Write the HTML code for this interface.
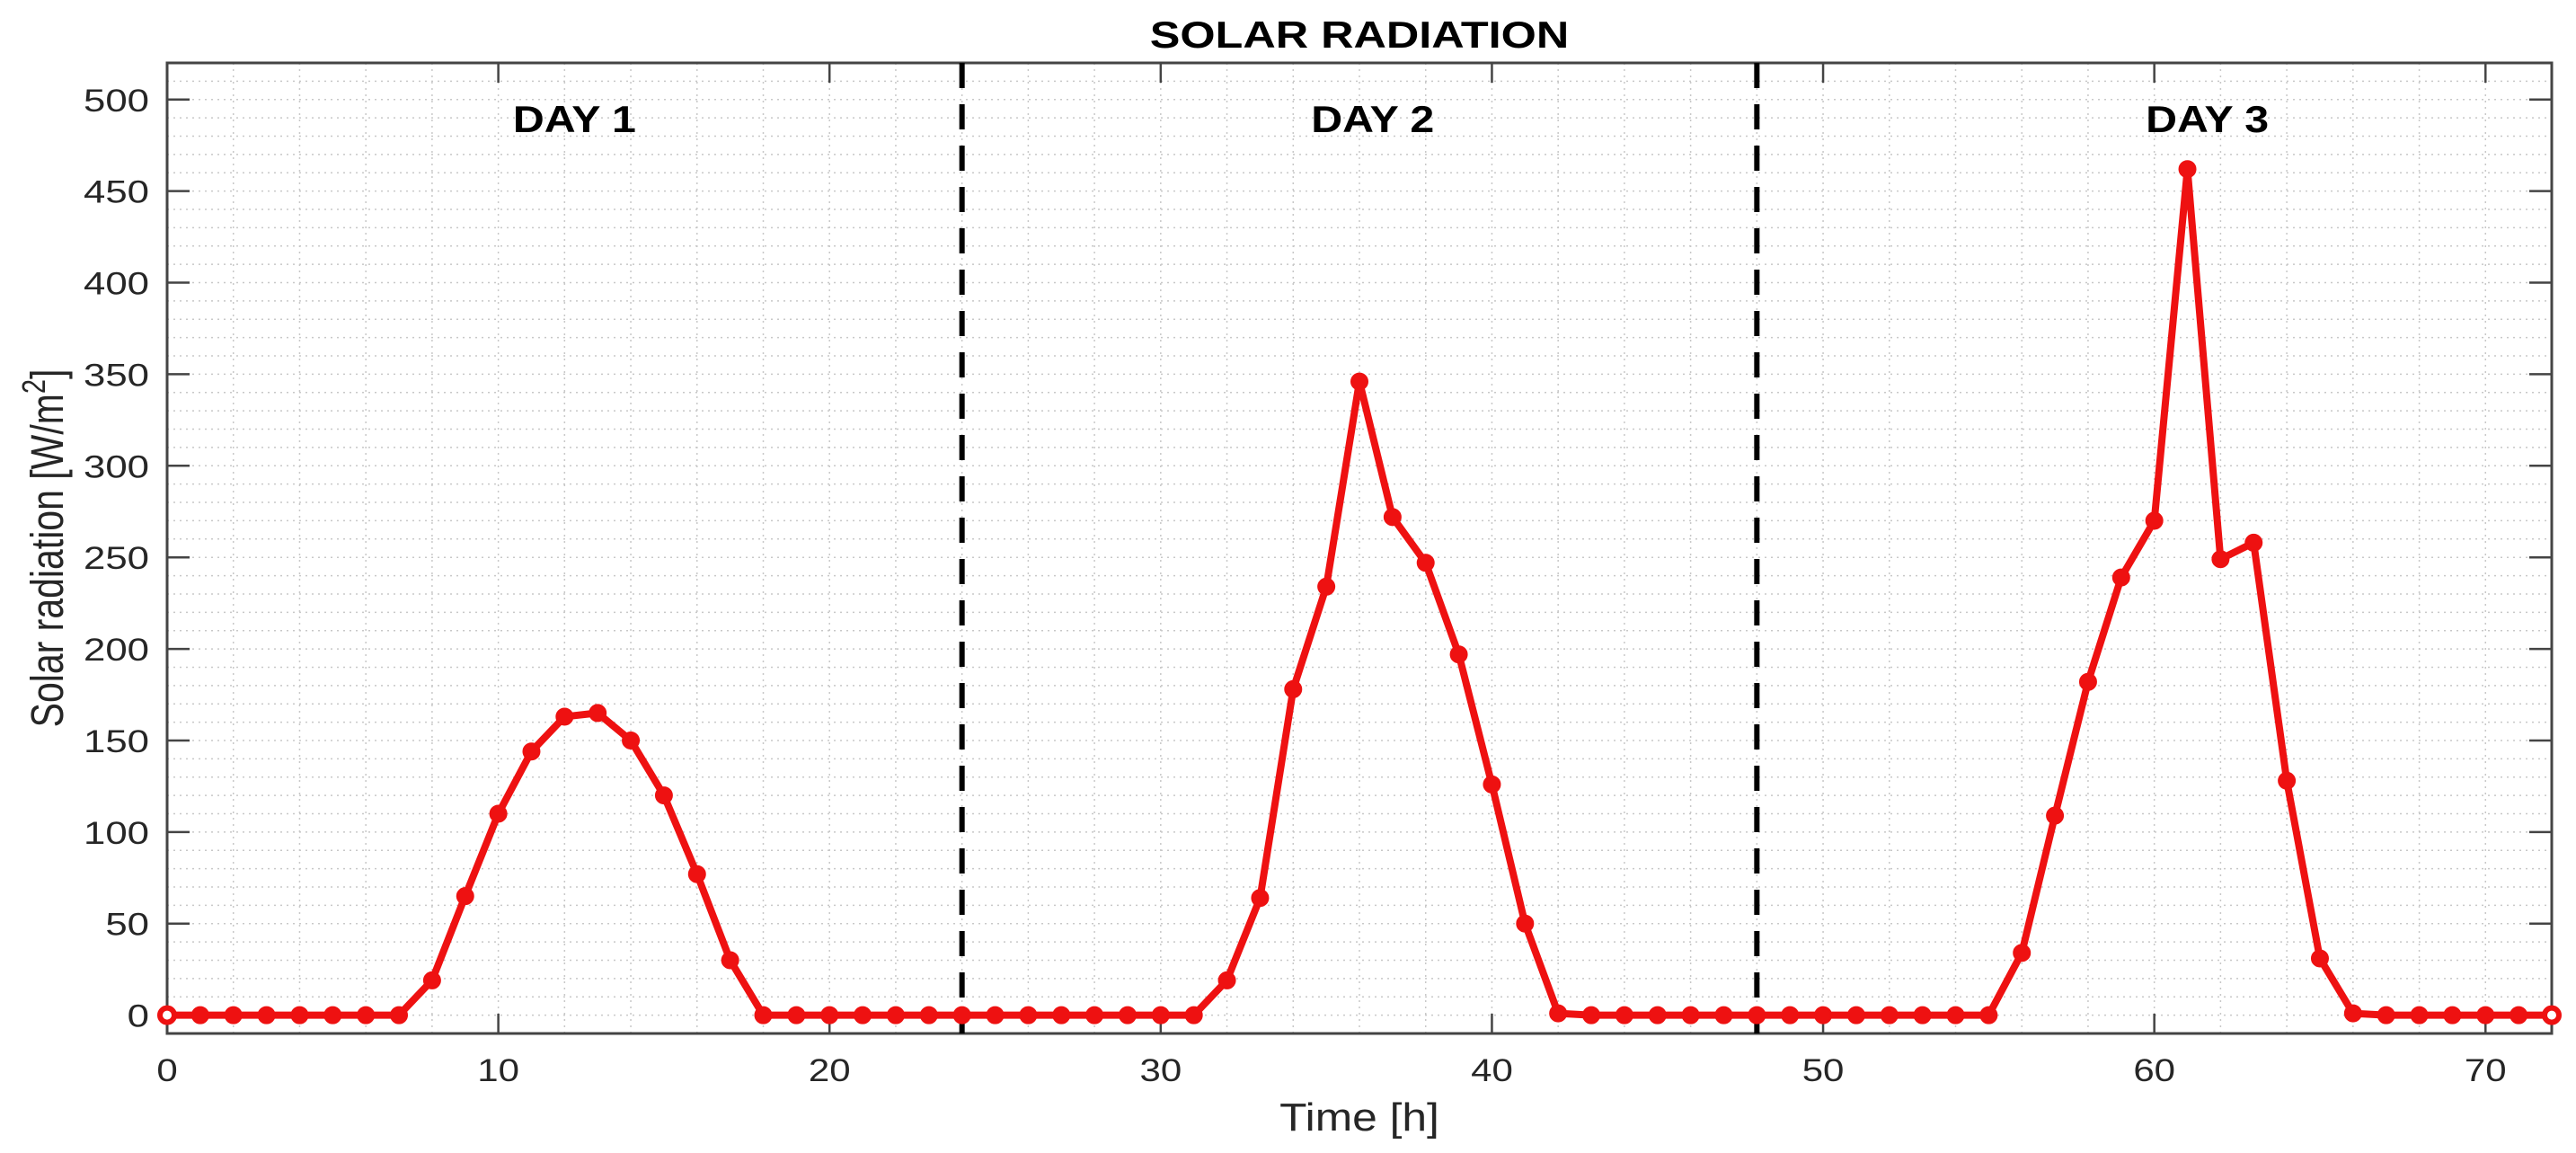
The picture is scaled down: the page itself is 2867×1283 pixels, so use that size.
<!DOCTYPE html>
<html><head><meta charset="utf-8"><style>
html,body{margin:0;padding:0;background:#fff;}
svg{display:block;font-family:"Liberation Sans",Arial,sans-serif;}
</style></head><body>
<svg id="chart" width="2867" height="1283" viewBox="0 0 2867 1283">
<g id="grid"></g>
<g id="axes"></g>
<g id="plot"></g>
<text transform="translate(1513,53) scale(1.2,1)" text-anchor="middle" font-size="42" font-weight="bold" fill="#000">SOLAR RADIATION</text>
<text transform="translate(1513,1258) scale(1.13,1)" text-anchor="middle" font-size="44" fill="#262626">Time [h]</text>
<text transform="translate(70,610) scale(1.25,1) rotate(-90)" text-anchor="middle" font-size="41" fill="#262626">Solar radiation [W/m<tspan baseline-shift="super" font-size="29">2</tspan>]</text>
</svg>
<script>
const hours = [];
for (let h = 0; h <= 72; h++) hours.push(h);
const radiation = [0,0,0,0,0,0,0,0,19,65,110,144,163,165,150,120,77,30,0,0,0,0,0,0,
0,0,0,0,0,0,0,0,19,64,178,234,346,272,247,197,126,50,1,0,0,0,0,0,
0,0,0,0,0,0,0,0,34,109,182,239,270,462,249,258,128,31,1,0,0,0,0,0,0];
const xTicks = [0,10,20,30,40,50,60,70];
const yTicks = [0,50,100,150,200,250,300,350,400,450,500];
const dayLines = [24,48];
const dayLabels = ["DAY 1","DAY 2","DAY 3"];
const dayLabelX = [12.3,36.4,61.6];

const L=186,R=2840,T=70,B=1150,X0=0,X1=72,Y0=-10,Y1=520;
const sx=v=>L+(v-X0)/(X1-X0)*(R-L);
const sy=v=>B-(v-Y0)/(Y1-Y0)*(B-T);
const NS="http://www.w3.org/2000/svg";
function mk(tag,attrs,parent){const e=document.createElementNS(NS,tag);for(const k in attrs)e.setAttribute(k,attrs[k]);parent.appendChild(e);return e;}
const grid=document.getElementById('grid'),axes=document.getElementById('axes'),plot=document.getElementById('plot');

for(let v=0;v<=72;v+=2){const e=mk('line',{x1:sx(v),x2:sx(v),y1:T,y2:B,stroke:'#c8c8c8','stroke-width':1.5,'stroke-dasharray':'2 5'},grid);

}
for(let v=0;v<=520;v+=10){const e=mk('line',{x1:L,x2:R,y1:sy(v),y2:sy(v),stroke:'#c8c8c8','stroke-width':1.5,'stroke-dasharray':'2 5'},grid);

}

const box=mk('rect',{x:L,y:T,width:R-L,height:B-T,fill:'none',stroke:'#444','stroke-width':3},axes);


xTicks.forEach(v=>{
 mk('line',{x1:sx(v),x2:sx(v),y1:B,y2:B-22,stroke:'#444','stroke-width':2.5},axes);
 mk('line',{x1:sx(v),x2:sx(v),y1:T,y2:T+22,stroke:'#444','stroke-width':2.5},axes);
 const t=mk('text',{transform:'translate('+sx(v)+',1203) scale(1.2,1)','text-anchor':'middle','font-size':35,fill:'#262626'},axes);t.textContent=v;
 
 
});
yTicks.forEach(v=>{
 mk('line',{x1:L,x2:L+25,y1:sy(v),y2:sy(v),stroke:'#444','stroke-width':2.5},axes);
 mk('line',{x1:R,x2:R-25,y1:sy(v),y2:sy(v),stroke:'#444','stroke-width':2.5},axes);
 const t=mk('text',{transform:'translate(166,'+(sy(v)+13)+') scale(1.25,1)','text-anchor':'end','font-size':35,fill:'#262626'},axes);t.textContent=v;
 
 
});

dayLines.forEach(d=>{const e=mk('line',{x1:sx(d),x2:sx(d),y1:T,y2:B,stroke:'#000','stroke-width':6,'stroke-dasharray':'28 18'},plot);

});
dayLabels.forEach((s,i)=>{const t=mk('text',{transform:'translate('+sx(dayLabelX[i])+',147) scale(1.15,1)','text-anchor':'middle','font-size':42,'font-weight':'bold',fill:'#000'},plot);t.textContent=s;

});

const pts=hours.map((h,i)=>sx(h)+','+sy(radiation[i])).join(' ');
const line=mk('polyline',{points:pts,fill:'none',stroke:'#ee1111','stroke-width':8,'stroke-linejoin':'round'},plot);


hours.forEach((h,i)=>{
 const end=(i===0||i===hours.length-1);
 const c=mk('circle',{cx:sx(h),cy:sy(radiation[i]),r:end?8:9,fill:end?'#fff':'#ee1111',stroke:'#ee1111','stroke-width':end?6:2},plot);
 
 
});
</script>
</body></html>
